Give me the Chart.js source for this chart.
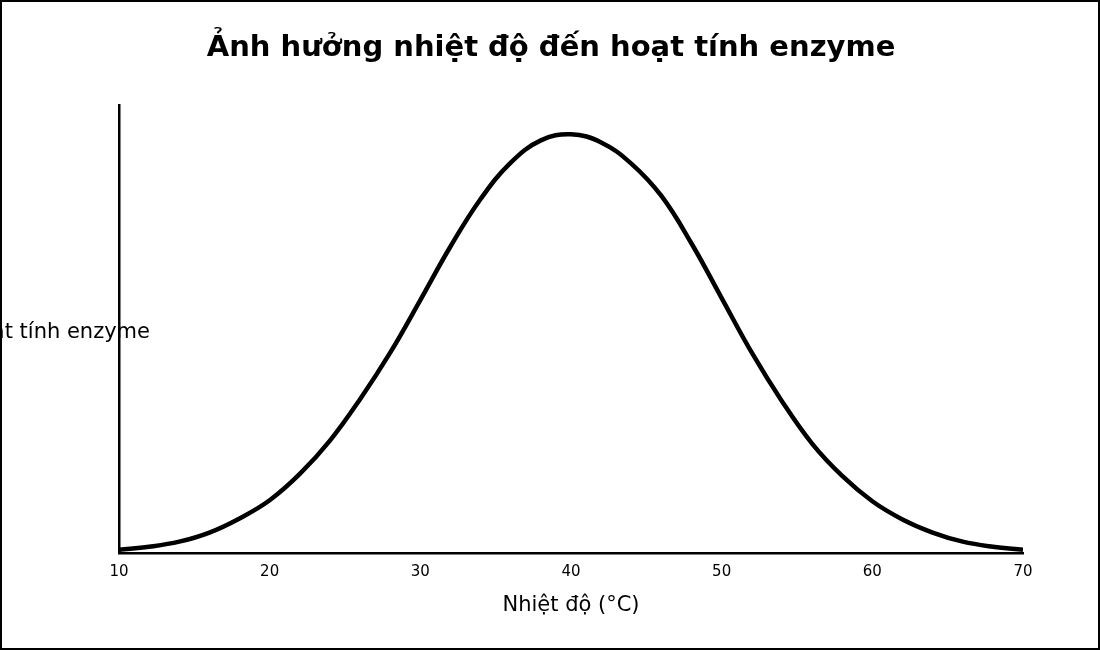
<!DOCTYPE html>
<html><head><meta charset="utf-8">
<script src="https://cdn.jsdelivr.net/npm/chart.js@4/dist/chart.umd.min.js"></script>
<style>html,body{margin:0;padding:0;background:#fff}#w{width:1096px;height:646px;border:2px solid #000;position:relative}</style>
</head><body><div id="w"><canvas id="c"></canvas></div>
<script>
const temps=[10,12,14,16,18,20,22,24,26,28,30,32,34,36,38,40,42,44,46,48,50,52,54,56,58,60,62,64,66,68,70];
const activity=[3,6,11,20,34,52,78,111,152,198,250,303,350,386,408,414,406,385,353,306,252,198,150,108,76,51,33,20,11,6,3];
const xTicks=[10,20,30,40,50,60,70];
const titleText='Ảnh hưởng nhiệt độ đến hoạt tính enzyme';
const xLabel='Nhiệt độ (°C)';
const yLabel='Hoạt tính enzyme';
const F='"DejaVu Sans", sans-serif';
const deco={id:'deco',afterDraw(ch){const c=ch.ctx;c.save();c.fillStyle='#000';
c.font='21px '+F;c.textAlign='right';c.textBaseline='middle';c.fillText(yLabel,148,331);
c.font='bold 29px '+F;c.textAlign='center';c.fillText(titleText,549,46);c.restore();}};
new Chart(document.getElementById('c'),{type:'line',
data:{datasets:[{data:temps.map((t,i)=>({x:t,y:activity[i]})),borderColor:'#000',borderWidth:4.5,pointRadius:0,tension:0.4,fill:false}]},
options:{responsive:true,maintainAspectRatio:false,animation:false,
layout:{padding:{left:109,right:75,top:103,bottom:26}},
plugins:{legend:{display:false},tooltip:{enabled:false},title:{display:false}},
scales:{x:{type:'linear',min:10,max:70,afterBuildTicks(a){a.ticks=xTicks.map(v=>({value:v}));},
grid:{display:false,drawTicks:true,tickLength:6,tickColor:'#000'},border:{color:'#000',width:2.5},
ticks:{color:'#000',font:{family:F,size:15},padding:4},
title:{display:true,text:xLabel,color:'#000',font:{family:F,size:21},padding:{top:8}}},
y:{min:0,max:443,ticks:{display:false},grid:{display:false},border:{color:'#000',width:2.5}}}},
plugins:[deco]});
</script></body></html>
